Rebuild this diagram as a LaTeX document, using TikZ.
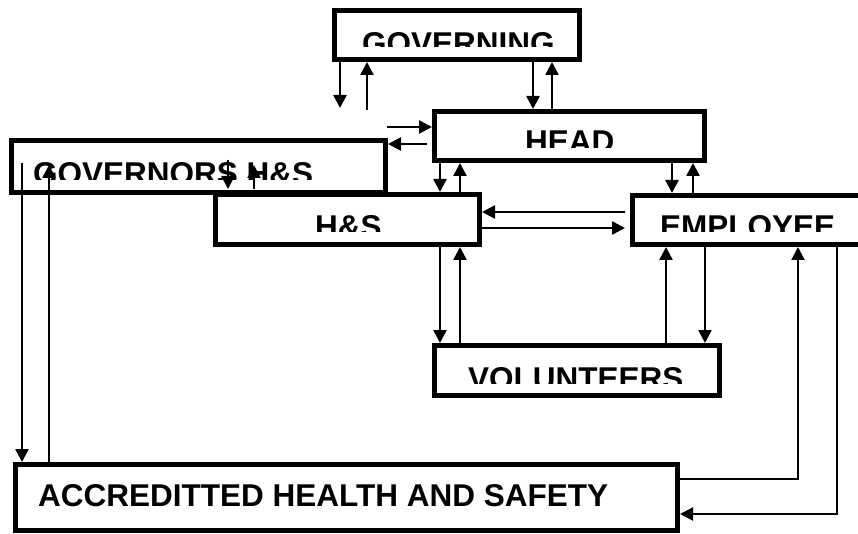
\documentclass[tikz,border=0pt]{standalone}
\usepackage{fontspec}
\setmainfont{Liberation Sans}
\usetikzlibrary{arrows.meta,calc}
\begin{document}
\begin{tikzpicture}[x=1pt,y=-1pt,
  box/.style={draw,line width=5pt,rectangle,inner sep=0pt},
  lbl/.style={anchor=base west,inner sep=0pt,font=\fontsize{31.5}{36}\selectfont\bfseries},
  arr/.style={line width=2.5pt,-{Triangle[length=13pt,width=13pt]}},
  thinarr/.style={line width=2pt,-{Triangle[length=13pt,width=13pt]}}]
\useasboundingbox (0,0) rectangle (858,534);
% boxes
\node[box,minimum width=245pt,minimum height=49pt] (gov) at (457,35) {};
\node[box,minimum width=270pt,minimum height=49pt] (head) at (569.5,136) {};
\node[box,minimum width=374pt,minimum height=52pt] (govhs) at (198.5,166.5) {};
\node[box,minimum width=264pt,minimum height=50pt] (hs) at (347.5,219.5) {};
\node[box,minimum width=265pt,minimum height=49pt] (emp) at (765,220) {};
\node[box,minimum width=285pt,minimum height=50pt] (vol) at (577,370.5) {};
\node[box,minimum width=662pt,minimum height=66pt] (acc) at (346.5,497.5) {};
% texts (clipped as in the original)
\begin{scope}\clip (335,10) rectangle (580,47);
  \node[lbl] (tgov) at (362,54.5) {GOVERNING};\end{scope}
\begin{scope}\clip (435,112) rectangle (705,148);
  \node[lbl] (thead) at (525,152.5) {HEAD};\end{scope}
\begin{scope}\clip (12,141) rectangle (385,180);
  \node[lbl] (tgovhs) at (33,184.5) {GOVERNORS H\&S};\end{scope}
\begin{scope}\clip (216,195) rectangle (480,232);
  \node[lbl] (ths) at (315,237.5) {H\&S};\end{scope}
\begin{scope}\clip (633,196) rectangle (858,232);
  \node[lbl] (temp) at (660,237.5) {EMPLOYEE};\end{scope}
\begin{scope}\clip (435,346) rectangle (720,383);
  \node[lbl] (tvol) at (468,389.5) {VOLUNTEERS};\end{scope}
\node[lbl] (tacc) at (38,506) {ACCREDITTED HEALTH AND SAFETY};
% free ends
\coordinate (f1) at (340,108);
\coordinate (f2) at (367,110);
\coordinate (f5) at (387,127);
\coordinate (f11a) at (228,160);
\coordinate (f11b) at (228,189);
\coordinate (f12a) at (254,189);
\coordinate (f12b) at (254,165);
\coordinate (f13) at (22,163);
\coordinate (f14) at (49,165);
% connectors
\draw[arr] (gov.south -| f1) -- (f1);
\draw[arr] (f2) -- (gov.south -| f2);
\draw[arr] (gov.south -| 533,0) -- (head.north -| 533,0);
\draw[arr] (head.north -| 552,0) -- (gov.south -| 552,0);
\draw[arr] (f5) -- (head.west |- f5);
\draw[arr] ($(head.west |- 0,144)+(-5,0)$) -- (govhs.east |- 0,144);
\draw[arr] (head.south -| 440,0) -- (hs.north -| 440,0);
\draw[arr] (hs.north -| 460,0) -- (head.south -| 460,0);
\draw[arr] (head.south -| 672,0) -- (emp.north -| 672,0);
\draw[arr] (emp.north -| 693,0) -- (head.south -| 693,0);
\draw[arr] (f11a) -- (f11b);
\draw[arr] (f12a) -- (f12b);
\draw[arr] (f13) -- (acc.north -| f13);
\draw[arr] (acc.north -| f14) -- (f14);
\draw[arr] ($(emp.west |- 0,212)+(-5,0)$) -- (hs.east |- 0,212);
\draw[arr] (hs.east |- 0,228) -- ($(emp.west |- 0,228)+(-5,0)$);
\draw[arr] (hs.south -| 440,0) -- (vol.north -| 440,0);
\draw[arr] (vol.north -| 460,0) -- (hs.south -| 460,0);
\draw[arr] (vol.north -| 666,0) -- (emp.south -| 666,0);
\draw[arr] (emp.south -| 705,0) -- (vol.north -| 705,0);
\draw[thinarr] (acc.east |- 0,479) -| (emp.south -| 798,0);
\draw[thinarr] (emp.south -| 837,0) |- (acc.east |- 0,514);
\end{tikzpicture}
\end{document}
